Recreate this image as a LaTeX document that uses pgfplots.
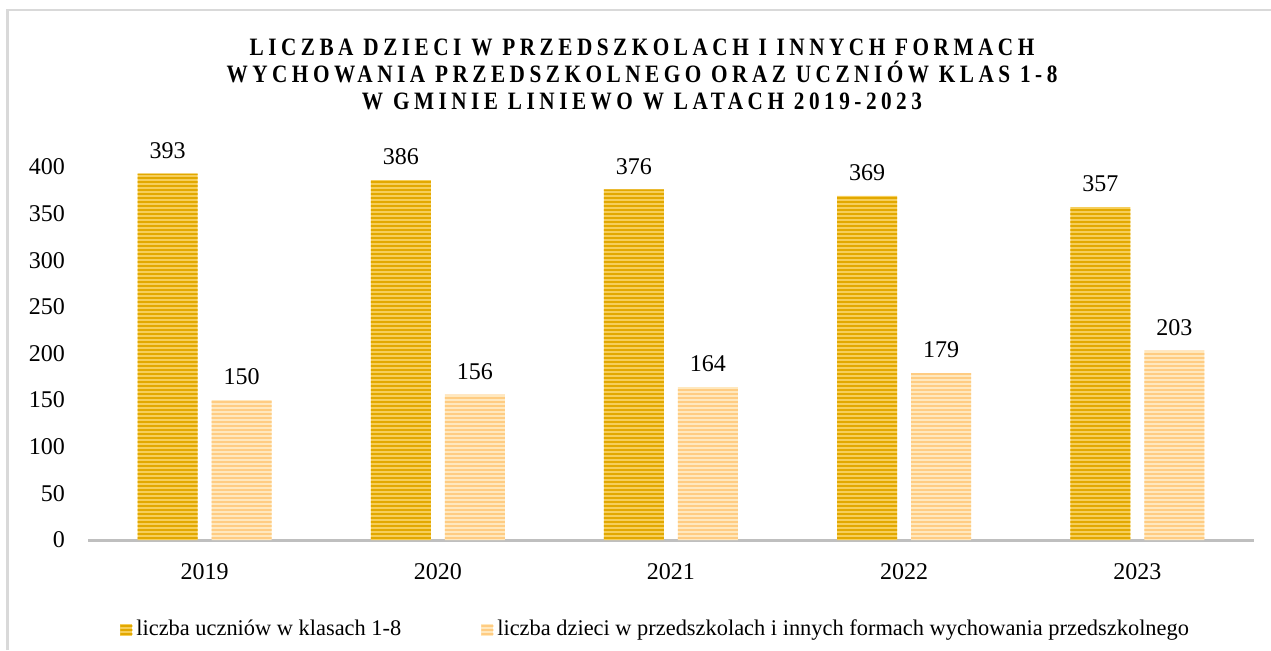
\documentclass[border=0pt]{standalone}
\usepackage{fontspec}
\setmainfont{Liberation Serif}
\newfontfamily\titlefont[FakeStretch=0.85,LetterSpace=18]{Liberation Serif Bold}
\usepackage{pgfplots}
\pgfplotsset{compat=1.18}
\usetikzlibrary{patterns.meta}
\definecolor{goldA}{RGB}{246,206,90}
\definecolor{goldB}{RGB}{226,168,0}
\definecolor{peachA}{RGB}{255,232,190}
\definecolor{peachB}{RGB}{255,204,130}
\definecolor{axisgray}{RGB}{191,191,191}
\definecolor{framegray}{RGB}{217,217,217}
\begin{document}
\begin{tikzpicture}[x=1pt,y=1pt]
\useasboundingbox (0,0) rectangle (635.5,325);
\draw[framegray,line width=1.2pt] (3.8,0) -- (3.8,320) -- (640,320);
\node[align=center,font=\titlefont\fontsize{12.5}{13.5}\selectfont] at (321,288)
{LICZBA DZIECI W PRZEDSZKOLACH I INNYCH FORMACH\\
WYCHOWANIA PRZEDSZKOLNEGO ORAZ UCZNIÓW KLAS 1-8\\
W GMINIE LINIEWO W LATACH 2019-2023};
\begin{axis}[
  at={(44pt,55pt)}, anchor=south west,
  scale only axis, width=583pt, height=186.5pt,
  ymin=0, ymax=400, xmin=-0.5, xmax=4.5,
  ybar=7pt, bar width=30pt,
  axis x line*=bottom, axis y line*=left,
  x axis line style={-,axisgray,line width=1.5pt},
  y axis line style={draw=none},
  major tick length=0pt,
  ytick={0,50,...,400},
  xtick=data, xticklabels={2019,2020,2021,2022,2023},
  yticklabel style={xshift=-8pt},
  xticklabel style={yshift=-8pt},
  tick label style={font=\fontsize{12}{14}\selectfont},
  /pgf/number format/assume math mode=true,
  nodes near coords,
  nodes near coords style={font=\fontsize{12}{14}\selectfont, yshift=4pt},
  clip=false,
  legend style={at={(0.0274,-0.24)}, anchor=west, draw=none, legend columns=2,
    font=\fontsize{11.2}{13}\selectfont,
    /tikz/every even column/.append style={column sep=38pt},
    legend cell align=left, inner sep=0pt},
  legend image code/.code={\fill[#1] (0pt,-3pt) rectangle (6pt,3pt);},
]
\addplot[draw=none, fill=goldA, postaction={pattern={Lines[angle=0,distance=2pt,line width=0.9pt]}, pattern color=goldB}]
  coordinates {(0,393) (1,386) (2,376) (3,369) (4,357)};
\addplot[draw=none, fill=peachA, postaction={pattern={Lines[angle=0,distance=2pt,line width=0.9pt]}, pattern color=peachB}]
  coordinates {(0,150) (1,156) (2,164) (3,179) (4,203)};
\legend{liczba uczniów w klasach 1-8, liczba dzieci w przedszkolach i innych formach wychowania przedszkolnego}
\end{axis}
\end{tikzpicture}
\end{document}
